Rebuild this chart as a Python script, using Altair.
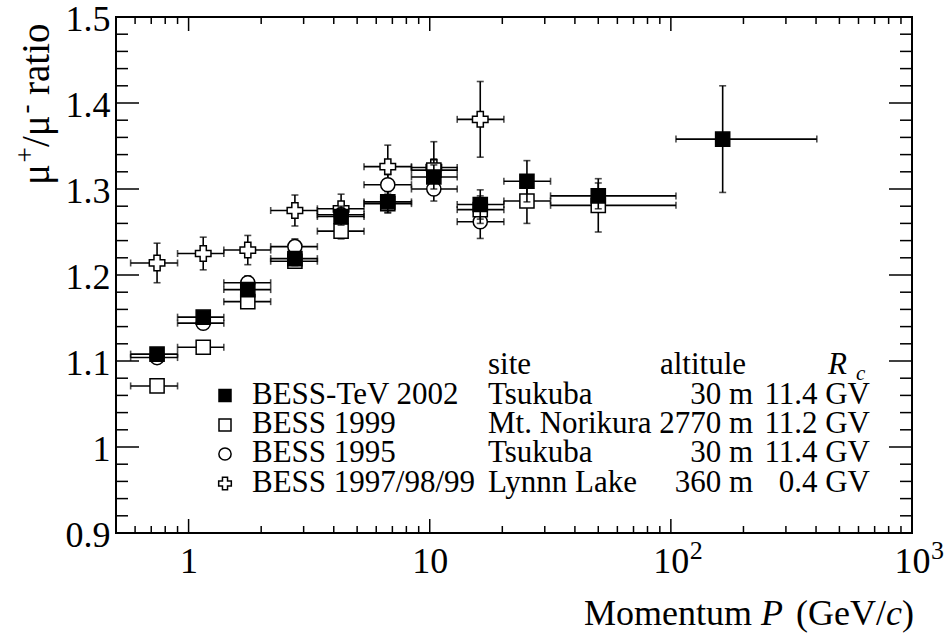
import altair as alt
import pandas as pd

FONT = "Liberation Serif"
W, H = 796, 516

# ---------------- data ----------------
edges_lo = [0.575, 0.90, 1.40, 2.19, 3.42, 5.34, 8.4, 13.0, 20.3, 31.7, 105]
edges_hi = [0.90, 1.40, 2.19, 3.42, 5.34, 8.4, 13.0, 20.3, 31.7, 105, 403]
p_center = [0.74, 1.15, 1.76, 2.76, 4.29, 6.7, 10.4, 16.2, 25.3, 50, 164]

# BESS-TeV 2002 (filled squares)
tev_ratio = [1.108, 1.151, 1.183, 1.219, 1.268, 1.285, 1.314, 1.282, 1.309, 1.292, 1.358]
tev_err = [0.006, 0.006, 0.007, 0.008, 0.010, 0.012, 0.014, 0.017, 0.024, 0.015, 0.062]

# BESS 1999, Mt. Norikura (open squares)
b99_ratio = [1.071, 1.116, 1.169, 1.216, 1.251, 1.283, 1.322, 1.276, 1.286, 1.281]
b99_err = [0.006, 0.006, 0.007, 0.008, 0.009, 0.011, 0.013, 0.016, 0.026, 0.031]

# BESS 1995, Tsukuba (open circles)
b95_ratio = [1.104, 1.144, 1.191, 1.233, 1.270, 1.305, 1.300, 1.262]
b95_err = [0.007, 0.007, 0.008, 0.009, 0.010, 0.012, 0.014, 0.0195]

# BESS 1997/98/99, Lynn Lake (open crosses)
ll_ratio = [1.214, 1.225, 1.229, 1.275, 1.277, 1.326, 1.325, 1.381]
ll_err = [0.023, 0.019, 0.017, 0.018, 0.017, 0.025, 0.030, 0.044]

y_major = [0.9, 1.0, 1.1, 1.2, 1.3, 1.4, 1.5]
y_minor = [0.92, 0.94, 0.96, 0.98, 1.02, 1.04, 1.06, 1.08, 1.12, 1.14, 1.16, 1.18,
           1.22, 1.24, 1.26, 1.28, 1.32, 1.34, 1.36, 1.38, 1.42, 1.44, 1.46, 1.48]
x_major = [1, 10, 100, 1000]
x_minor = [0.6, 0.7, 0.8, 0.9, 2, 3, 4, 5, 6, 7, 8, 9, 20, 30, 40, 50, 60, 70, 80, 90,
           200, 300, 400, 500, 600, 700, 800, 900]

legend_names = ["BESS-TeV 2002", "BESS 1999", "BESS 1995", "BESS 1997/98/99"]
legend_sites = ["Tsukuba", "Mt. Norikura", "Tsukuba", "Lynnn Lake"]
legend_alt = ["30 m", "2770 m", "30 m", "360 m"]
legend_rc = ["11.4 GV", "11.2 GV", "11.4 GV", "0.4 GV"]

# ---------------- scales / axes ----------------
LBL = 36
xs = alt.Scale(type="log", domain=[0.5, 1000])
ys = alt.Scale(domain=[0.9, 1.5])
xax = alt.Axis(values=x_major, labelExpr="datum.value >= 100 ? '10' : datum.label",
               domain=False, ticks=False, grid=False, labelFont=FONT, labelFontSize=LBL,
               labelColor="black", labelPadding=11, title=None, labelFlush=False)
yax = alt.Axis(values=y_major, format=".1~f", domain=False, ticks=False, grid=False,
               labelFont=FONT, labelFontSize=LBL, labelColor="black", labelPadding=6,
               labelOffset=2, title=None)


def X(f):
    return alt.X(f, type="quantitative", scale=xs, axis=xax)


def Y(f):
    return alt.Y(f, type="quantitative", scale=ys, axis=yax)


def make_df(ratio, err):
    n = len(ratio)
    return pd.DataFrame({
        "P": p_center[:n], "lo": edges_lo[:n], "hi": edges_hi[:n],
        "r": ratio, "rlo": [r - e for r, e in zip(ratio, err)],
        "rhi": [r + e for r, e in zip(ratio, err)],
    })


def series_layers(df, shape, fill, size):
    lw = 1.6
    hbar = alt.Chart(df).mark_rule(color="black", strokeWidth=lw).encode(
        x=X("lo"), x2="hi", y=Y("r"))
    vbar = alt.Chart(df).mark_rule(color="black", strokeWidth=lw).encode(
        x=X("P"), y=Y("rlo"), y2="rhi")
    capx = pd.concat([df[["lo", "r"]].rename(columns={"lo": "c"}),
                      df[["hi", "r"]].rename(columns={"hi": "c"})])
    capy = pd.concat([df[["P", "rlo"]].rename(columns={"rlo": "c"}),
                      df[["P", "rhi"]].rename(columns={"rhi": "c"})])
    hcap = alt.Chart(capx).mark_tick(orient="vertical", size=7, thickness=lw,
                                     color="black").encode(x=X("c"), y=Y("r"))
    vcap = alt.Chart(capy).mark_tick(orient="horizontal", size=7, thickness=lw,
                                     color="black").encode(x=X("P"), y=Y("c"))
    mk = alt.Chart(df).mark_point(shape=shape, filled=True, fill=fill, stroke="black",
                                  strokeWidth=1.5, size=size, opacity=1,
                                  fillOpacity=1).encode(x=X("P"), y=Y("r"))
    return [hbar, vbar, hcap, vcap, mk]


layers = []
# frame ticks (inside, all four sides)
dxmaj = pd.DataFrame({"v": x_major})
dxmin = pd.DataFrame({"v": x_minor})
dymaj = pd.DataFrame({"v": y_major})
dymin = pd.DataFrame({"v": y_minor})
tk = dict(color="black", strokeWidth=1.5)
layers += [
    alt.Chart(dxmaj).mark_rule(**tk).encode(x=X("v"), y=alt.value(H), y2=alt.value(H - 14)),
    alt.Chart(dxmin).mark_rule(**tk).encode(x=X("v"), y=alt.value(H), y2=alt.value(H - 7)),
    alt.Chart(dxmaj).mark_rule(**tk).encode(x=X("v"), y=alt.value(0), y2=alt.value(14)),
    alt.Chart(dxmin).mark_rule(**tk).encode(x=X("v"), y=alt.value(0), y2=alt.value(7)),
    alt.Chart(dymaj).mark_rule(**tk).encode(y=Y("v"), x=alt.value(0), x2=alt.value(23)),
    alt.Chart(dymin).mark_rule(**tk).encode(y=Y("v"), x=alt.value(0), x2=alt.value(12)),
    alt.Chart(dymaj).mark_rule(**tk).encode(y=Y("v"), x=alt.value(W), x2=alt.value(W - 23)),
    alt.Chart(dymin).mark_rule(**tk).encode(y=Y("v"), x=alt.value(W), x2=alt.value(W - 12)),
]

# superscripts of 10^2, 10^3
sup = pd.DataFrame({"v": [100, 1000], "t": ["2", "3"]})
layers.append(alt.Chart(sup).mark_text(font=FONT, fontSize=26, color="black", align="left",
                                       baseline="alphabetic", dx=19).encode(
    x=X("v"), y=alt.value(H + 26), text="t:N"))

# data series
layers += series_layers(make_df(ll_ratio, ll_err), "cross", "white", 240)
layers += series_layers(make_df(b95_ratio, b95_err), "circle", "white", 200)
layers += series_layers(make_df(b99_ratio, b99_err), "square", "white", 200)
layers += series_layers(make_df(tev_ratio, tev_err), "square", "black", 200)

# ---------------- legend / table ----------------
one = pd.DataFrame({"a": [0]})


def txt(s, x, y, size=31, align="left", style="normal", angle=0, dx=0, dy=0):
    return alt.Chart(one).mark_text(text=s, font=FONT, fontSize=size, align=align,
                                    baseline="alphabetic", fontStyle=style, color="black",
                                    angle=angle, dx=dx, dy=dy).encode(
        x=alt.value(x), y=alt.value(y))


base_rows = [386.5, 416, 445, 474.5]
shapes = [("square", "black", 144), ("square", "white", 144),
          ("circle", "white", 150), ("cross", "white", 160)]
layers.append(txt("site", 372, 357))
layers.append(txt("altitule", 544, 357))
layers.append(txt("R", 712, 357, style="italic"))
layers.append(txt("c", 740, 363, size=21, style="italic"))
for i in range(4):
    yb = base_rows[i]
    sh, fl, sz = shapes[i]
    layers.append(alt.Chart(one).mark_point(shape=sh, filled=True, fill=fl, stroke="black",
                                            strokeWidth=1.5, size=sz, opacity=1).encode(
        x=alt.value(109), y=alt.value(yb - 8)))
    layers.append(txt(legend_names[i], 136, yb))
    layers.append(txt(legend_sites[i], 372, yb))
    layers.append(txt(legend_alt[i], 637, yb, align="right"))
    layers.append(txt(legend_rc[i], 754, yb, align="right"))

# ---------------- axis titles ----------------
TS = 36
xt_y = H + 92
layers += [
    txt(")", W + 2, xt_y, size=TS, align="right"),
    txt("c", W - 10, xt_y, size=TS, align="right", style="italic"),
    txt("(GeV/", W - 26, xt_y, size=TS, align="right"),
    txt("P", 645, xt_y, size=TS, align="left", style="italic"),
    txt("Momentum", 636, xt_y, size=TS, align="right"),
]
# y title (rotated), starts at the bottom and reads upward
yx, yy = -67, 168
layers += [
    txt("μ", yx, yy, size=39, angle=270, dx=0),
    txt("+", yx, yy, size=27, angle=270, dx=22.5, dy=-15),
    txt("/μ", yx, yy, size=39, angle=270, dx=38),
    txt("-", yx, yy, size=27, angle=270, dx=71.5, dy=-15),
    txt("ratio", yx, yy, size=39, angle=270, dx=90),
]

chart = alt.layer(*layers).properties(
    width=W, height=H,
    autosize=alt.AutoSizeParams(type="none"),
    padding={"left": 116, "top": 17, "right": 40, "bottom": 101},
    background="white",
).configure_view(stroke="black", strokeWidth=2)

chart.save("out.html", embed_options={"renderer": "svg", "actions": False})
